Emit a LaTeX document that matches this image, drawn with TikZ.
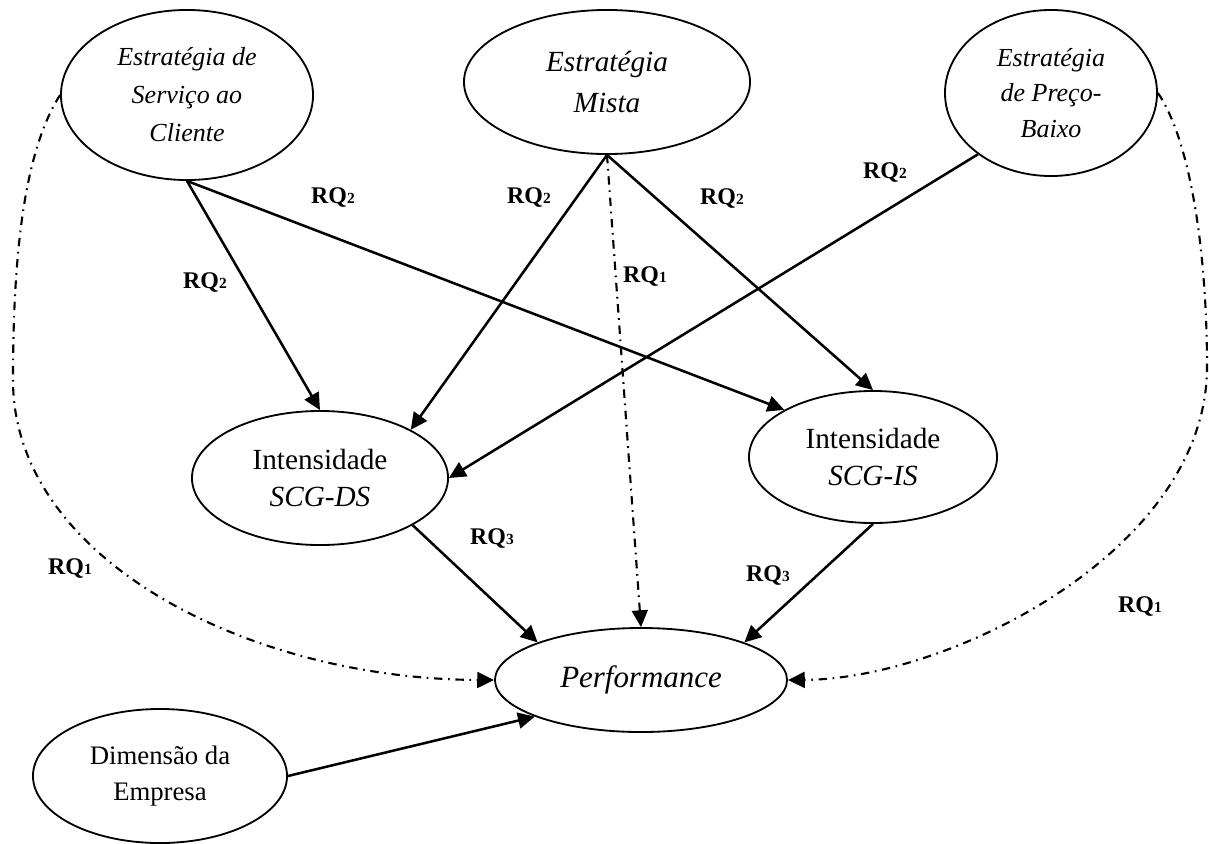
\documentclass[tikz,border=0pt]{standalone}
\usepackage{fontspec}
\setmainfont{Liberation Serif}
\usepackage{tikz}
\usetikzlibrary{shapes.geometric}
\usetikzlibrary{arrows.meta}

\tikzset{
  construto/.style={draw, ellipse, line width=1.3pt, inner sep=0pt, align=center},
  seta/.style={-{Triangle[length=0.42cm,width=0.4cm]}, line width=1.8pt},
  rqum/.style={seta, line width=1.5pt, dash pattern=on 6pt off 4pt on 1.2pt off 4pt},
  rotulo/.style={font=\fontsize{17}{20}\selectfont\bfseries, inner sep=0pt}
}
\newcommand{\rqn}[1]{RQ{\fontsize{11}{12}\selectfont #1}}

\begin{document}
\begin{tikzpicture}[x=0.025cm, y=-0.025cm]
\useasboundingbox (0,0) rectangle (1209,843);

%Estrategias
\node[construto, minimum width=6.3cm, minimum height=4.25cm, font=\fontsize{18.5}{27}\selectfont\itshape] (servico) at (187,95) {Estratégia de\\Serviço ao\\Cliente};
\node[construto, minimum width=7.15cm, minimum height=3.6cm, font=\fontsize{20.8}{28.5}\selectfont\itshape] (mista) at (607,82) {Estratégia\\Mista};
\node[construto, minimum width=5.3cm, minimum height=4.15cm, font=\fontsize{18.5}{25}\selectfont\itshape] (preco) at (1051,93) {Estratégia\\de Preço-\\Baixo};

%Intensidades
\node[construto, minimum width=6.4cm, minimum height=3.35cm, font=\fontsize{20.8}{27}\selectfont] (scgds) at (320,478) {Intensidade\\\textit{SCG-DS}};
\node[construto, minimum width=6.2cm, minimum height=3.3cm, font=\fontsize{20.8}{27}\selectfont] (scgis) at (873,457) {Intensidade\\\textit{SCG-IS}};

%Performance
\node[construto, minimum width=7.3cm, minimum height=2.6cm, font=\fontsize{22}{26}\selectfont\itshape] (perf) at (641,680) {Performance};
%Dimensao
\node[construto, minimum width=6.35cm, minimum height=3.35cm, font=\fontsize{19}{25}\selectfont] (dimensao) at (160,776) {Dimensão da\\Empresa};

%RQ2
\draw[seta] (servico.south) -- (scgds.north);
\draw[seta] (servico.south) -- (scgis.152);
\draw[seta] (mista.south) -- (scgds.28);
\draw[seta] (mista.south) -- (scgis.north);
\draw[seta] (preco.220) -- (scgds.east);

%RQ3
\draw[seta] (scgds.333) -- (perf.160);
\draw[seta] (scgis.south) -- (perf.20);
\draw[seta] (dimensao.east) -- (perf.199);

%RQ1
\draw[rqum] (mista.south) -- (perf.north);
\draw[rqum] (servico.west) .. controls (25,150) and (13,250) .. (13,380) .. controls (13,560) and (250,679) .. (perf.west);
\draw[rqum] (preco.east) .. controls (1190,140) and (1207,250) .. (1207,367) .. controls (1207,550) and (950,679) .. (perf.east);

%labels
\node[rotulo] (rqa) at (205,283) {\rqn{2}};
\node[rotulo] (rqb) at (333,198) {\rqn{2}};
\node[rotulo] (rqc) at (529,198) {\rqn{2}};
\node[rotulo] (rqd) at (722,199) {\rqn{2}};
\node[rotulo] (rqe) at (885,173) {\rqn{2}};
\node[rotulo] (rqf) at (645,277) {\rqn{1}};
\node[rotulo] (rqg) at (492,539) {\rqn{3}};
\node[rotulo] (rqh) at (768,576) {\rqn{3}};
\node[rotulo] (rqi) at (70,569) {\rqn{1}};
\node[rotulo] (rqj) at (1140,607) {\rqn{1}};

\end{tikzpicture}
\end{document}
